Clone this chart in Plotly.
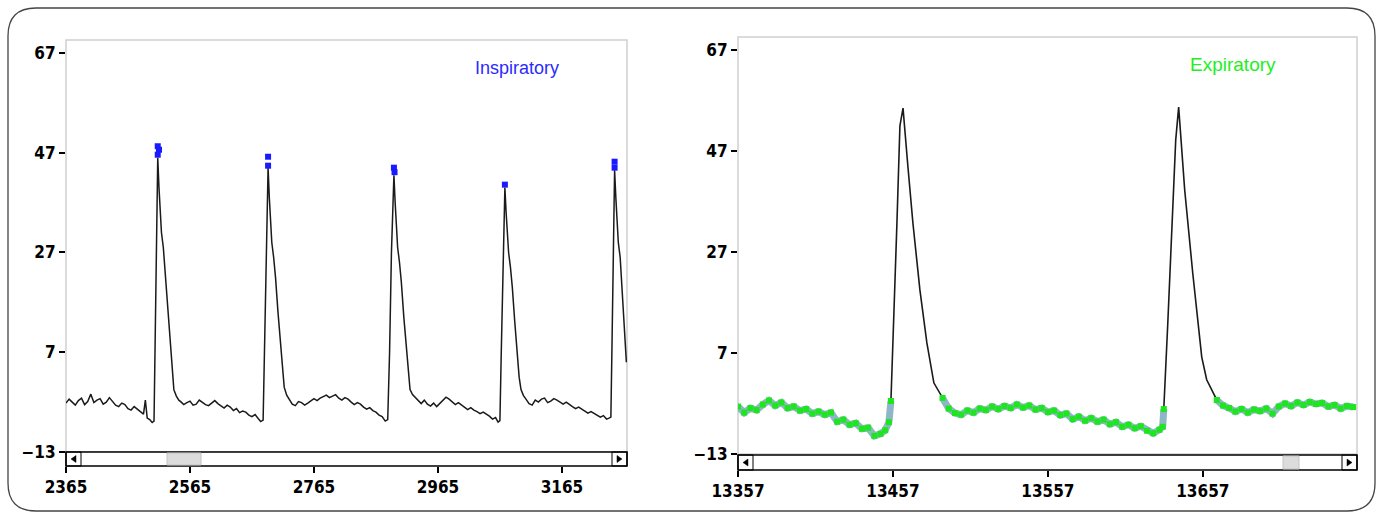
import plotly.graph_objects as go

W, H = 1383, 519

# ---------------- Inspiratory panel data ----------------
insp_time = [
    # baseline before 1st breath
    2365, 2370, 2375, 2380, 2385, 2390, 2395, 2400, 2405, 2410, 2415, 2420, 2425, 2430, 2435,
    2440, 2445, 2450, 2455, 2460, 2465, 2470, 2475, 2480, 2485, 2490, 2493, 2496, 2500, 2504,
    # peak 1
    2507, 2509, 2511, 2513, 2515, 2517, 2519, 2522, 2525, 2529, 2533, 2536, 2539, 2543, 2547,
    # baseline
    2550, 2555, 2560, 2565, 2570, 2575, 2580, 2585, 2590, 2595, 2600, 2605, 2610, 2615, 2620,
    2625, 2630, 2635, 2640, 2645, 2650, 2655, 2660, 2665, 2670, 2675, 2679,
    # peak 2
    2683, 2685, 2688, 2691, 2693, 2695, 2697, 2700, 2703, 2707, 2711, 2714, 2717, 2721,
    # baseline
    2725, 2730, 2735, 2740, 2745, 2750, 2755, 2760, 2765, 2770, 2775, 2780, 2785, 2790, 2795,
    2800, 2805, 2810, 2815, 2820, 2825, 2830, 2835, 2840, 2845, 2850, 2855, 2860, 2865, 2870,
    2875, 2880,
    # peak 3
    2884, 2887, 2890, 2894, 2896, 2898, 2900, 2903, 2906, 2910, 2914, 2917, 2920, 2924,
    # baseline
    2928, 2933, 2938, 2943, 2948, 2953, 2958, 2963, 2968, 2973, 2978, 2983, 2988, 2993, 2998,
    3003, 3008, 3013, 3018, 3023, 3028, 3033, 3038, 3043, 3048, 3053, 3058, 3062,
    # peak 4
    3065, 3067, 3070, 3073, 3075, 3077, 3079, 3082, 3085, 3089, 3093, 3096, 3099, 3103,
    # baseline
    3107, 3112, 3117, 3122, 3127, 3132, 3137, 3142, 3147, 3152, 3157, 3162, 3167, 3172, 3177,
    3182, 3187, 3192, 3197, 3202, 3207, 3212, 3217, 3222, 3227, 3232, 3237, 3241,
    # peak 5
    3244, 3246, 3248, 3250, 3252, 3254, 3256, 3259, 3262, 3265, 3269,
]
insp_flow = [
    -3.2, -2.4, -3.0, -3.6, -2.7, -2.2, -3.5, -2.9, -1.4, -3.1, -2.6, -2.3, -3.4, -3.0, -2.1,
    -2.9, -3.6, -3.9, -3.2, -3.5, -4.3, -4.6, -3.9, -4.4, -5.0, -5.4, -2.6, -6.2, -6.5, -7.1,
    -6.8, 9, 33, 46, 40, 34, 31, 28, 23, 16, 9.5, 3, -0.5, -1.8, -2.6,
    -2.9, -3.5, -3.1, -2.8, -3.6, -3.4, -2.6, -3.0, -3.5, -3.7, -3.1, -2.7, -3.3, -3.8, -4.2,
    -3.6, -4.0, -4.7, -4.3, -5.1, -4.8, -5.0, -5.6, -5.9, -5.5, -6.3, -6.9,
    -6.6, 8, 30, 44, 38, 32, 29, 26, 22, 15, 9, 3, 0, -1.6,
    -2.4, -3.4, -3.7, -2.9, -3.1, -3.6, -3.2, -2.8, -2.3, -2.7, -2.2, -1.9, -1.6, -2.1, -1.8,
    -1.5, -2.2, -2.6, -2.1, -2.4, -3.0, -3.5, -3.1, -3.4, -4.0, -4.4, -4.1, -4.7, -5.0, -5.6,
    -5.9, -6.8,
    -6.5, 7, 27, 42.5, 37, 31, 28, 25, 21, 14, 8, 2.5, -0.5, -1.5,
    -2.0, -2.8, -3.3, -2.6, -3.4, -3.8, -3.2, -3.9, -3.3, -2.6, -2.0, -2.4, -2.9, -3.5, -3.1,
    -3.6, -4.0, -4.5, -4.1, -4.6, -4.9, -5.3, -5.0, -5.4, -5.8, -6.4, -6.1, -7.0,
    -6.7, 6, 25, 40, 35, 30, 27, 24, 20, 13, 7, 2, -0.5, -1.7,
    -2.4, -3.3, -3.6, -2.6, -3.0, -2.4, -2.2, -3.1, -2.8, -2.3, -2.6, -3.0, -3.4, -3.0, -3.5,
    -3.9, -4.3, -4.0, -4.4, -4.8, -5.2, -4.9, -5.3, -5.6, -6.0, -5.7, -6.4, -6.2,
    -6.0, 10, 32, 43.5, 38, 32, 29, 26, 20, 12, 5,
]
insp_peak_time = [2513, 2515, 2513, 2691, 2691, 2894, 2895, 3073, 3250, 3250]
insp_peak_flow = [48.3, 47.6, 46.6, 46.2, 44.4, 44.0, 43.1, 40.6, 45.2, 44.0]

# ---------------- Expiratory panel data ----------------
exp_base1_t = [13357, 13361, 13365, 13369, 13373, 13377, 13381, 13385, 13389, 13393, 13397,
               13401, 13405, 13409, 13413, 13417, 13421, 13425, 13429, 13433, 13437, 13441,
               13445, 13449, 13452, 13454.4, 13455.7]
exp_base1_v = [-3.6, -4.8, -3.9, -4.3, -3.2, -2.4, -3.4, -2.8, -3.9, -3.6, -4.4,
               -4.1, -5.0, -4.6, -5.2, -4.8, -6.6, -6.2, -7.2, -6.9, -8.0, -7.8,
               -9.4, -9.0, -8.3, -6.7, -2.5]
exp_peak1_t = [13457.6, 13459.6, 13461.5, 13463.5, 13466.7, 13469.9, 13474.4, 13478.9, 13483.4, 13486]
exp_peak1_v = [13, 33, 52, 55.5, 43.8, 32.7, 19.5, 9, 1.1, -0.3]
exp_base2_t = [13489, 13493, 13497, 13501, 13505, 13509, 13513, 13517, 13521, 13525, 13529,
               13533, 13537, 13541, 13545, 13549, 13553, 13557, 13561, 13565, 13569, 13573,
               13577, 13581, 13585, 13589, 13593, 13597, 13601, 13605, 13609, 13613, 13617,
               13621, 13625, 13629, 13631.1, 13631.8]
exp_base2_v = [-1.9, -4.0, -4.9, -5.2, -4.4, -4.8, -4.0, -4.3, -3.6, -4.1, -3.5,
               -3.9, -3.2, -3.8, -3.4, -4.2, -3.9, -4.7, -4.4, -5.3, -5.0, -6.1,
               -5.6, -6.4, -5.9, -6.6, -6.2, -7.1, -6.7, -7.6, -7.2, -7.9, -7.5,
               -8.4, -8.9, -8.2, -7.6, -4.1]
exp_peak2_t = [13634.4, 13637, 13639.5, 13641.4, 13645.3, 13650.5, 13656.3, 13659.5, 13663.4]
exp_peak2_v = [13, 32.7, 49.2, 55.7, 39.3, 22.8, 6.2, 1.7, -0.7]
exp_base3_t = [13666, 13670, 13674, 13678, 13682, 13686, 13690, 13694, 13698, 13702, 13706,
               13710, 13714, 13718, 13722, 13726, 13730, 13734, 13738, 13742, 13746, 13750, 13754]
exp_base3_v = [-2.3, -3.4, -3.9, -4.6, -4.1, -4.8, -4.2, -4.5, -4.0, -5.0, -3.6,
               -3.0, -3.5, -2.8, -3.3, -2.7, -3.1, -2.9, -3.6, -3.3, -4.0, -3.5, -3.7]

y_ticks = [-13, 7, 27, 47, 67]
insp_x_ticks = [2365, 2565, 2765, 2965, 3165]
exp_x_ticks = [13357, 13457, 13557, 13657]
titles = ["Inspiratory", "Expiratory"]

# ---------------- helpers (pixel -> paper) ----------------
def px(x):
    return x / W


def py(y):
    return 1 - y / H


exp_all_t = exp_base1_t + exp_peak1_t + exp_base2_t + exp_peak2_t + exp_base3_t
exp_all_v = exp_base1_v + exp_peak1_v + exp_base2_v + exp_peak2_v + exp_base3_v
exp_mark_t = exp_base1_t + [None] + exp_base2_t + [None] + exp_base3_t
exp_mark_v = exp_base1_v + [None] + exp_base2_v + [None] + exp_base3_v

fig = go.Figure()
fig.add_trace(go.Scatter(x=insp_time, y=insp_flow, mode="lines",
                         line=dict(color="#1a1a1a", width=1.5), xaxis="x", yaxis="y",
                         showlegend=False, hoverinfo="skip"))
fig.add_trace(go.Scatter(x=insp_peak_time, y=insp_peak_flow, mode="markers",
                         marker=dict(symbol="square", size=6, color="#1a1aff"),
                         xaxis="x", yaxis="y", showlegend=False))
fig.add_trace(go.Scatter(x=exp_all_t, y=exp_all_v, mode="lines",
                         line=dict(color="#1a1a1a", width=1.6), xaxis="x2", yaxis="y2",
                         showlegend=False, hoverinfo="skip"))
fig.add_trace(go.Scatter(x=exp_mark_t, y=exp_mark_v, mode="lines+markers",
                         line=dict(color="#8fb6c6", width=7),
                         marker=dict(symbol="square", size=6, color="#1ee61e"),
                         connectgaps=False, xaxis="x2", yaxis="y2", showlegend=False))

tick_font = dict(family="Liberation Sans Narrow, DejaVu Sans Condensed, Arial Narrow, sans-serif",
                 size=17, color="black", weight="bold")
common_x = dict(ticks="outside", ticklen=6, tickwidth=1.5, tickcolor="black", showgrid=False,
                zeroline=False, showline=False, tickfont=tick_font, anchor="free",
                automargin=False, tickformat="d")
common_y = dict(ticks="outside", ticklen=6, tickwidth=1.5, tickcolor="black", showgrid=False,
                zeroline=False, showline=False, tickfont=tick_font, range=[-13, 69.6],
                tickvals=y_ticks, automargin=False)

fig.update_layout(
    width=W, height=H, margin=dict(l=0, r=0, t=0, b=0, autoexpand=False),
    paper_bgcolor="white", plot_bgcolor="white",
    xaxis=dict(domain=[px(66), px(627)], range=[2365, 3270], tickvals=insp_x_ticks,
               position=py(466), **common_x),
    yaxis=dict(domain=[py(452), py(40)], anchor="x", **common_y),
    xaxis2=dict(domain=[px(738), px(1357)], range=[13357, 13756.5], tickvals=exp_x_ticks,
                position=py(470), **common_x),
    yaxis2=dict(domain=[py(454), py(37)], anchor="x2", **common_y),
)

shapes = []
# plot frames
for (x0, y0, x1, y1) in [(66, 40, 627, 452), (738, 37, 1357, 454)]:
    shapes.append(dict(type="rect", xref="paper", yref="paper", x0=px(x0), x1=px(x1),
                       y0=py(y1), y1=py(y0), line=dict(color="#cfcfcf", width=1.5), layer="below"))

# scrollbars
for (x0, y0, x1, y1, t0, t1) in [(66, 452, 627, 466, 167, 201), (738, 455, 1357, 470, 1283, 1299)]:
    shapes.append(dict(type="rect", xref="paper", yref="paper", x0=px(x0), x1=px(x1),
                       y0=py(y1), y1=py(y0), line=dict(color="black", width=1.6),
                       fillcolor="white"))
    shapes.append(dict(type="rect", xref="paper", yref="paper", x0=px(t0), x1=px(t1),
                       y0=py(y1 - 1), y1=py(y0 + 1), line=dict(color="#c4c4c4", width=1),
                       fillcolor="#dcdcdc"))
    # arrow boxes
    shapes.append(dict(type="rect", xref="paper", yref="paper", x0=px(x0), x1=px(x0 + 15),
                       y0=py(y1), y1=py(y0), line=dict(color="black", width=1)))
    shapes.append(dict(type="rect", xref="paper", yref="paper", x0=px(x1 - 15), x1=px(x1),
                       y0=py(y1), y1=py(y0), line=dict(color="black", width=1)))
    ym = (y0 + y1) / 2
    shapes.append(dict(type="path", xref="paper", yref="paper",
                       path=f"M {px(x0 + 5)},{py(ym)} L {px(x0 + 10)},{py(ym - 3.5)} "
                            f"L {px(x0 + 10)},{py(ym + 3.5)} Z",
                       fillcolor="black", line=dict(color="black", width=0.5)))
    shapes.append(dict(type="path", xref="paper", yref="paper",
                       path=f"M {px(x1 - 5)},{py(ym)} L {px(x1 - 10)},{py(ym - 3.5)} "
                            f"L {px(x1 - 10)},{py(ym + 3.5)} Z",
                       fillcolor="black", line=dict(color="black", width=0.5)))

# outer rounded border
L, T, R, B, r = 8, 8, 1375, 511, 28
path = (f"M {px(L + r)},{py(T)} L {px(R - r)},{py(T)} Q {px(R)},{py(T)} {px(R)},{py(T + r)} "
        f"L {px(R)},{py(B - r)} Q {px(R)},{py(B)} {px(R - r)},{py(B)} "
        f"L {px(L + r)},{py(B)} Q {px(L)},{py(B)} {px(L)},{py(B - r)} "
        f"L {px(L)},{py(T + r)} Q {px(L)},{py(T)} {px(L + r)},{py(T)} Z")
shapes.append(dict(type="path", xref="paper", yref="paper", path=path,
                   line=dict(color="#444444", width=1.3), layer="below"))
fig.update_layout(shapes=shapes)

fig.add_annotation(text=titles[0], xref="paper", yref="paper", x=px(517), y=py(68),
                   xanchor="center", yanchor="middle", showarrow=False,
                   font=dict(family="Liberation Sans, Arial, sans-serif", size=18, color="#2a2aff"))
fig.add_annotation(text=titles[1], xref="paper", yref="paper", x=px(1233), y=py(64),
                   xanchor="center", yanchor="middle", showarrow=False,
                   font=dict(family="Liberation Sans, Arial, sans-serif", size=19, color="#22ee22"))

fig.write_html("out.html", config={"displayModeBar": False},
               post_script="document.body.style.margin='0';document.body.style.padding='0';"
                           "document.body.style.overflow='hidden';")
